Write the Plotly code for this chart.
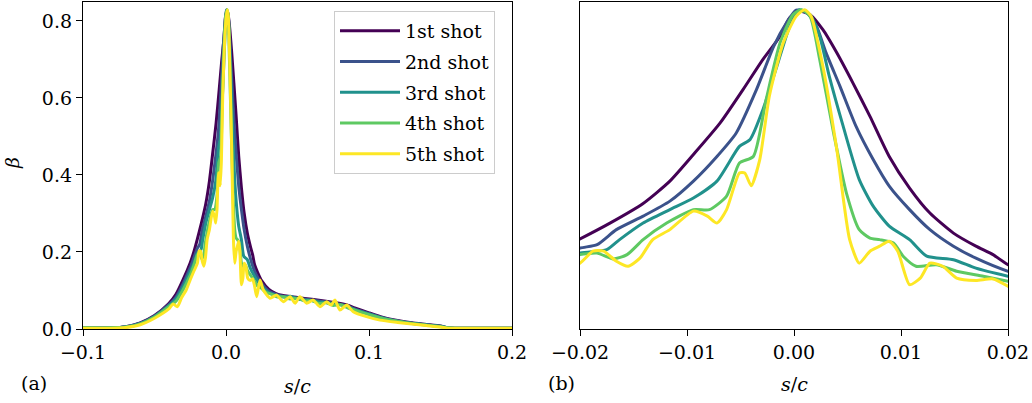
import plotly.graph_objects as go

labels = ["1st shot", "2nd shot", "3rd shot", "4th shot", "5th shot"]
colors = ["#440154", "#3b528b", "#21918c", "#5ec962", "#fde725"]

x1 = [-0.1, -0.08, -0.07, -0.06, -0.05, -0.04, -0.035, -0.03, -0.025, -0.0225, -0.02, -0.0172, -0.0141, -0.0116, -0.0094, -0.0069, -0.00475, -0.0029, -0.0013, -0.0004, 0.00055, 0.0015, 0.0027, 0.0040, 0.0055, 0.0071, 0.0089, 0.0108, 0.0127, 0.0149, 0.0170, 0.0186, 0.02, 0.022, 0.025, 0.03, 0.035, 0.04, 0.05, 0.06, 0.07, 0.08, 0.085, 0.09, 0.1, 0.11, 0.12, 0.13, 0.14, 0.15, 0.155, 0.16, 0.2]
y1 = [0.003, 0.003, 0.006, 0.016, 0.035, 0.066, 0.090, 0.128, 0.172, 0.200, 0.234, 0.275, 0.326, 0.384, 0.453, 0.535, 0.622, 0.700, 0.760, 0.808, 0.825, 0.816, 0.777, 0.717, 0.639, 0.552, 0.448, 0.366, 0.301, 0.249, 0.215, 0.193, 0.167, 0.148, 0.125, 0.103, 0.092, 0.087, 0.082, 0.077, 0.072, 0.066, 0.062, 0.055, 0.042, 0.030, 0.022, 0.016, 0.012, 0.008, 0.003, 0.002, 0.002]

x2 = [-0.1, -0.08, -0.07, -0.06, -0.05, -0.04, -0.035, -0.03, -0.025, -0.0225, -0.02, -0.0184, -0.0166, -0.0141, -0.0116, -0.0094, -0.0072, -0.0054, -0.0035, -0.0019, -0.0007, 0.0002, 0.0012, 0.0021, 0.0030, 0.0043, 0.0058, 0.0074, 0.0089, 0.0108, 0.0127, 0.0149, 0.0170, 0.02, 0.022, 0.025, 0.03, 0.035, 0.04, 0.05, 0.06, 0.07, 0.08, 0.085, 0.09, 0.1, 0.11, 0.12, 0.13, 0.14, 0.15, 0.155, 0.16, 0.2]
y2 = [0.003, 0.003, 0.006, 0.015, 0.034, 0.063, 0.083, 0.118, 0.160, 0.185, 0.210, 0.219, 0.258, 0.293, 0.332, 0.384, 0.448, 0.509, 0.622, 0.734, 0.795, 0.828, 0.821, 0.786, 0.717, 0.630, 0.526, 0.440, 0.371, 0.310, 0.258, 0.215, 0.184, 0.150, 0.135, 0.118, 0.098, 0.090, 0.085, 0.080, 0.075, 0.070, 0.064, 0.060, 0.052, 0.040, 0.029, 0.021, 0.015, 0.011, 0.007, 0.003, 0.002, 0.002]

x3 = [-0.1, -0.08, -0.07, -0.06, -0.05, -0.04, -0.035, -0.03, -0.025, -0.0225, -0.02, -0.0175, -0.0163, -0.0141, -0.0116, -0.0094, -0.0072, -0.0051, -0.0041, -0.0029, -0.0016, -0.0004, 0.0005, 0.0015, 0.0024, 0.0033, 0.0046, 0.0061, 0.0074, 0.0089, 0.0108, 0.0124, 0.0149, 0.0170, 0.02, 0.022, 0.025, 0.03, 0.035, 0.04, 0.045, 0.05, 0.06, 0.065, 0.07, 0.075, 0.08, 0.085, 0.09, 0.1, 0.11, 0.12, 0.13, 0.14, 0.15, 0.155, 0.16, 0.2]
y3 = [0.003, 0.003, 0.005, 0.014, 0.032, 0.060, 0.078, 0.110, 0.150, 0.170, 0.197, 0.206, 0.232, 0.275, 0.310, 0.340, 0.384, 0.474, 0.492, 0.570, 0.682, 0.786, 0.829, 0.816, 0.760, 0.656, 0.526, 0.388, 0.319, 0.267, 0.232, 0.189, 0.180, 0.158, 0.137, 0.125, 0.110, 0.094, 0.088, 0.083, 0.085, 0.078, 0.074, 0.070, 0.069, 0.065, 0.063, 0.058, 0.050, 0.039, 0.028, 0.020, 0.015, 0.011, 0.007, 0.003, 0.002, 0.002]

x4 = [-0.1, -0.08, -0.07, -0.06, -0.05, -0.04, -0.035, -0.03, -0.025, -0.0225, -0.02, -0.0184, -0.0169, -0.0156, -0.0141, -0.0119, -0.0094, -0.0079, -0.0063, -0.0051, -0.0038, -0.0026, -0.0013, -0.0001, 0.0007, 0.0015, 0.0024, 0.0037, 0.0049, 0.0061, 0.0071, 0.0080, 0.0093, 0.0102, 0.0114, 0.0133, 0.0152, 0.0177, 0.02, 0.022, 0.025, 0.028, 0.032, 0.036, 0.04, 0.045, 0.05, 0.055, 0.06, 0.065, 0.07, 0.075, 0.08, 0.085, 0.09, 0.1, 0.11, 0.12, 0.13, 0.14, 0.15, 0.155, 0.16, 0.2]
y4 = [0.003, 0.003, 0.005, 0.013, 0.031, 0.058, 0.072, 0.102, 0.140, 0.165, 0.193, 0.197, 0.182, 0.193, 0.232, 0.275, 0.310, 0.310, 0.345, 0.431, 0.448, 0.596, 0.743, 0.816, 0.829, 0.812, 0.700, 0.509, 0.353, 0.258, 0.236, 0.232, 0.223, 0.189, 0.163, 0.167, 0.150, 0.137, 0.124, 0.112, 0.105, 0.095, 0.090, 0.083, 0.084, 0.078, 0.080, 0.073, 0.074, 0.066, 0.068, 0.061, 0.063, 0.055, 0.049, 0.037, 0.027, 0.020, 0.014, 0.010, 0.006, 0.003, 0.002, 0.002]

x5 = [-0.1, -0.08, -0.07, -0.06, -0.05, -0.04, -0.037, -0.034, -0.031, -0.028, -0.025, -0.0225, -0.02, -0.0188, -0.0178, -0.0166, -0.0155, -0.0144, -0.0132, -0.0116, -0.0094, -0.0081, -0.0072, -0.0063, -0.0051, -0.0046, -0.0040, -0.0032, -0.0023, -0.0010, 0.0002, 0.0010, 0.0016, 0.0027, 0.0040, 0.0052, 0.0061, 0.0071, 0.0080, 0.0089, 0.0097, 0.0108, 0.0118, 0.0127, 0.0139, 0.0152, 0.0170, 0.0186, 0.02, 0.0215, 0.0238, 0.0261, 0.0308, 0.0354, 0.0401, 0.0448, 0.0483, 0.0517, 0.0564, 0.061, 0.0657, 0.0704, 0.0735, 0.0762, 0.0797, 0.0844, 0.089, 0.0983, 0.1077, 0.12, 0.13, 0.14, 0.15, 0.155, 0.16, 0.2]
y5 = [0.002, 0.002, 0.004, 0.011, 0.028, 0.052, 0.065, 0.058, 0.082, 0.100, 0.128, 0.150, 0.171, 0.202, 0.202, 0.176, 0.163, 0.184, 0.232, 0.258, 0.306, 0.293, 0.275, 0.310, 0.405, 0.405, 0.372, 0.440, 0.605, 0.743, 0.812, 0.829, 0.812, 0.682, 0.466, 0.232, 0.171, 0.202, 0.215, 0.228, 0.202, 0.115, 0.132, 0.171, 0.163, 0.132, 0.126, 0.130, 0.111, 0.084, 0.127, 0.101, 0.080, 0.088, 0.071, 0.084, 0.067, 0.084, 0.067, 0.075, 0.058, 0.071, 0.062, 0.075, 0.049, 0.062, 0.045, 0.032, 0.023, 0.017, 0.013, 0.009, 0.005, 0.002, 0.002, 0.002]

xs = [x1, x2, x3, x4, x5]
ys = [y1, y2, y3, y4, y5]

left_xticks = [-0.1, 0.0, 0.1, 0.2]
right_xticks = [-0.02, -0.01, 0.0, 0.01, 0.02]
yticks = [0.0, 0.2, 0.4, 0.6, 0.8]

FONT = "DejaVu Serif"
FS = 19

fig = go.Figure()
for i in range(5):
    fig.add_trace(go.Scatter(x=xs[i], y=ys[i], mode="lines", name=labels[i],
                             legendgroup=labels[i],
                             line=dict(color=colors[i], width=3, shape="spline", smoothing=0.6),
                             xaxis="x", yaxis="y"))
for i in range(5):
    fig.add_trace(go.Scatter(x=xs[i], y=ys[i], mode="lines", name=labels[i],
                             legendgroup=labels[i], showlegend=False,
                             line=dict(color=colors[i], width=3, shape="spline", smoothing=0.6),
                             xaxis="x2", yaxis="y2"))

axis_common = dict(showline=True, mirror=True, linecolor="black", linewidth=1.3,
                   showgrid=False, zeroline=False, ticks="outside", ticklen=6,
                   tickwidth=1.2, tickcolor="black", automargin=False,
                   tickfont=dict(family=FONT, size=FS, color="black"))

fig.update_layout(
    width=1032, height=403,
    margin=dict(l=0, r=0, t=0, b=0, autoexpand=False),
    paper_bgcolor="white", plot_bgcolor="white",
    font=dict(family=FONT, size=FS, color="black"),
    xaxis=dict(domain=[83/1032, 512/1032], range=[-0.1, 0.2], tickvals=left_xticks,
               tickformat=".1f", anchor="y", **axis_common),
    yaxis=dict(domain=[74/403, 401/403], range=[0, 0.849], tickvals=yticks,
               tickformat=".1f", anchor="x", **axis_common),
    xaxis2=dict(domain=[580/1032, 1008/1032], range=[-0.02, 0.02], tickvals=right_xticks,
                tickformat=".2f", anchor="y2", **axis_common),
    yaxis2=dict(domain=[74/403, 401/403], range=[0, 0.849], anchor="x2", automargin=False,
                showline=True, mirror=True, linecolor="black", linewidth=1.3,
                showgrid=False, zeroline=False, showticklabels=False, ticks=""),
    legend=dict(x=334/1032, y=(403-11)/403, xanchor="left", yanchor="top",
                bgcolor="rgba(255,255,255,0.8)", bordercolor="#cccccc", borderwidth=1,
                font=dict(family=FONT, size=FS, color="black"),
                tracegroupgap=3, itemwidth=60, traceorder="grouped"),
    showlegend=True,
    annotations=[
        dict(text="<i>β</i>", x=12/1032, y=(403-163)/403, xref="paper", yref="paper",
             showarrow=False, textangle=-90, xanchor="center", yanchor="middle",
             font=dict(family=FONT, size=FS)),
        dict(text="<i>s</i>/<i>c</i>", x=297/1032, y=(403-386)/403, xref="paper", yref="paper",
             showarrow=False, xanchor="center", yanchor="middle", font=dict(family=FONT, size=FS)),
        dict(text="<i>s</i>/<i>c</i>", x=794/1032, y=(403-384)/403, xref="paper", yref="paper",
             showarrow=False, xanchor="center", yanchor="middle", font=dict(family=FONT, size=FS)),
        dict(text="(a)", x=34/1032, y=(403-383)/403, xref="paper", yref="paper",
             showarrow=False, xanchor="center", yanchor="middle", font=dict(family=FONT, size=FS)),
        dict(text="(b)", x=561/1032, y=(403-383)/403, xref="paper", yref="paper",
             showarrow=False, xanchor="center", yanchor="middle", font=dict(family=FONT, size=FS)),
    ],
)

fig.write_html("out.html")
